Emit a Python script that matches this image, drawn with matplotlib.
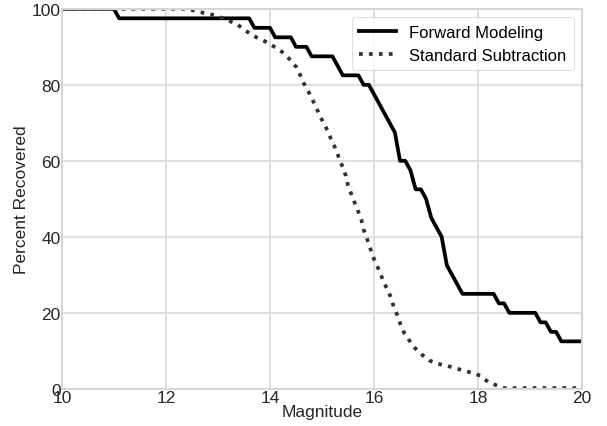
import matplotlib
matplotlib.use("Agg")
from matplotlib import pyplot as plt

# forward modeling recovery curve (vertices)
fm_mag = [10.0, 11.0, 11.1, 13.6, 13.7, 14.0, 14.1, 14.4, 14.5, 14.7, 14.8, 15.2,
          15.3, 15.4, 15.7, 15.8, 15.9, 16.4, 16.5, 16.6, 16.7, 16.8, 16.9, 17.0,
          17.1, 17.2, 17.3, 17.4, 17.7, 18.3, 18.4, 18.5, 18.6, 19.1, 19.2, 19.3,
          19.4, 19.5, 19.6, 20.0]
fm_pct = [100, 100, 97.5, 97.5, 95, 95, 92.5, 92.5, 90, 90, 87.5, 87.5,
          85, 82.5, 82.5, 80, 80, 67.5, 60, 60, 57.5, 52.5, 52.5, 50,
          45, 42.5, 40, 32.5, 25, 25, 22.5, 22.5, 20, 20, 17.5, 17.5,
          15, 15, 12.5, 12.5]

# standard subtraction recovery curve
ss_mag = [10.0, 12.4, 12.7, 12.88, 13.04, 13.2, 13.36, 13.5, 13.65, 13.8, 13.97,
          14.13, 14.26, 14.38, 14.51, 14.58, 14.65, 14.74, 14.82, 14.9, 14.97,
          15.06, 15.13, 15.2, 15.28, 15.33, 15.4, 15.46, 15.5, 15.63, 15.7, 15.76,
          15.8, 15.86, 15.92, 15.97, 16.05, 16.12, 16.18, 16.26, 16.33, 16.38,
          16.45, 16.51, 16.58, 16.68, 16.79, 16.92, 17.06, 17.22, 17.4, 17.56,
          17.74, 17.9, 18.04, 18.2, 18.36, 18.5, 20.0]
ss_pct = [100, 100, 99.0, 98.5, 97.8, 96.9, 96.0, 94.6, 93.1, 92.1, 91.0,
          89.6, 88.4, 86.7, 84.6, 82.6, 80.4, 78.2, 76.0, 73.7, 71.5,
          69.3, 67.1, 64.9, 62.7, 60.5, 58.3, 56.0, 53.5, 48.9, 46.5, 44.3,
          41.9, 39.7, 37.3, 35.1, 32.6, 30.5, 28.2, 26.1, 23.9, 21.5,
          19.3, 16.9, 14.7, 12.7, 10.7, 9.0, 7.5, 6.6, 6.1, 5.4,
          4.8, 4.1, 3.5, 1.75, 0.9, 0.2, 0.2]

plt.rcParams["font.family"] = ["Liberation Sans", "DejaVu Sans"]

fig = plt.figure(figsize=(6.07, 4.27), dpi=100)
ax = fig.add_axes([0.102, 0.087, 0.857, 0.89])

ax.plot(fm_mag, fm_pct, color="black", linewidth=2.7, label="Forward Modeling")
ax.plot(ss_mag, ss_pct, color="#333333", linewidth=2.7, linestyle=":",
        label="Standard Subtraction")

ax.set_xlim(10, 20)
ax.set_ylim(0, 100)
ax.set_xticks([10, 12, 14, 16, 18, 20])
ax.set_yticks([0, 20, 40, 60, 80, 100])
ax.tick_params(length=0, labelsize=12.5, colors="#262626", pad=1)
ax.set_xlabel("Magnitude", fontsize=12.5, color="#262626", labelpad=-1)
ax.set_ylabel("Percent Recovered", fontsize=12.5, color="#262626", labelpad=2)

ax.grid(True, color="#e0e0e0", linewidth=1.5)
ax.set_axisbelow(True)
for spine in ax.spines.values():
    spine.set_color("#d6d6d6")
    spine.set_linewidth(1.5)

leg = ax.legend(loc="upper right", fontsize=12, frameon=True, fancybox=True,
                handlelength=2.2, borderpad=0.45, borderaxespad=0.5)
leg.get_frame().set_edgecolor("#d9d9d9")
leg.get_frame().set_linewidth(0.8)

fig.savefig("out.png", dpi=100)
